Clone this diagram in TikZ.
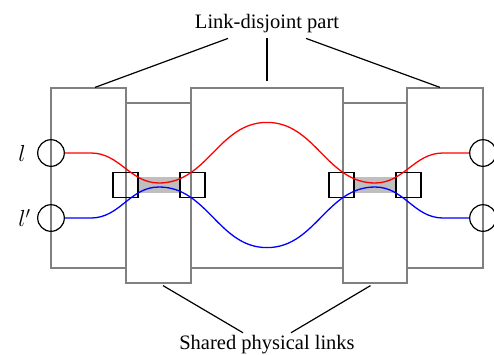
\documentclass[tikz,border=0pt]{standalone}
\usepackage{fontspec}
\setmainfont{Liberation Serif}
\usetikzlibrary{positioning}

\begin{document}
\begin{tikzpicture}[
        x = 1pt, y = -1pt,
        every node/.style = {font = \fontsize{20.5}{24}\selectfont},
        part/.style = {draw = gray, line width = 1.2pt, inner sep = 0pt, minimum height = 180pt},
        switch/.style = {draw = black, line width = 1.6pt, inner sep = 0pt, minimum size = 25pt},
        shared/.style = {fill = gray!50, inner sep = 0pt, minimum width = 40pt, minimum height = 16pt},
        port/.style = {circle, draw = black, line width = 1.2pt, inner sep = 0pt, minimum size = 26.6pt},
        lightpath/.style = {line width = 1.3pt},
        pointer/.style = {line width = 1.2pt, every edge/.style = {draw = black}}
    ]

      \useasboundingbox (0,0) rectangle (494,354);

      % the five parts of the network
      \node[part, minimum width = 75pt] (p1) at (88.5,178) {};
      \node[part, minimum width = 152pt] (p3) at (267,178) {};
      \node[part, minimum width = 76pt] (p5) at (445,178) {};
      \node[part, minimum width = 65pt] (p2) at (158.5,193) {};
      \node[part, minimum width = 64pt] (p4) at (375,193) {};

      % shared links between the switches
      \node[shared] (band1) at (159,185) {};
      \node[shared] (band2) at (375,185) {};

      \node[switch] (s1) [left = 0pt of band1] {};
      \node[switch] (s2) [right = 0pt of band1] {};
      \node[switch] (s3) [left = 0pt of band2] {};
      \node[switch] (s4) [right = 0pt of band2] {};

      % end points
      \node[port] (l1) at (51,153) {};
      \node[port] (l2) at (51,218) {};
      \node[port] (r1) at (483,153) {};
      \node[port] (r2) at (483,218) {};

      \node (lab1) [left = 8pt of l1] {\scalebox{1.12}{$l$}};
      \node (lab2) [left = 3pt of l2] {\scalebox{1.12}{$l'$}};

      % the two light paths
      \draw[lightpath, red] (l1.east) -- ++(26,0)
            to[out = 0, in = 180] ([yshift = 2pt]band1.center)
            to[out = 0, in = 180] ([yshift = -35pt]p3.north)
            to[out = 0, in = 180] ([yshift = 2pt]band2.center)
            to[out = 0, in = 180] ([xshift = -26pt]r1.west) -- (r1.west);

      \draw[lightpath, blue] (l2.east) -- ++(26,0)
            to[out = 0, in = 180] ([yshift = -2pt]band1.center)
            to[out = 0, in = 180] ([yshift = 21pt]p3.south)
            to[out = 0, in = 180] ([yshift = -2pt]band2.center)
            to[out = 0, in = 180] ([xshift = -26pt]r2.west) -- (r2.west);

      % captions
      \node[anchor = base] (top) at (267,28.5) {Link-disjoint part};
      \node[anchor = base] (bottom) at (267,349.5) {Shared physical links};

      \path[pointer]
            ([xshift = -39pt, yshift = -2pt]top.south) edge ([xshift = 6.5pt]p1.north)
            ([yshift = -2pt]top.south) edge ([yshift = 6pt]p3.north)
            ([xshift = 39pt, yshift = -2pt]top.south) edge ([xshift = -5pt]p5.north)
            ([xshift = 4.5pt, yshift = -2pt]p2.south) edge ([xshift = -24pt, yshift = -1pt]bottom.north)
            ([xshift = -4.5pt, yshift = -2pt]p4.south) edge ([xshift = 24pt, yshift = -1pt]bottom.north);

\end{tikzpicture}
\end{document}
